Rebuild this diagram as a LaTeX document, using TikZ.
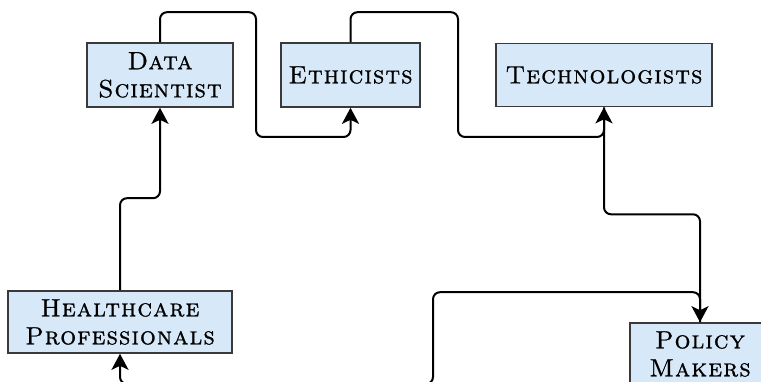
\documentclass[tikz,border=0pt]{standalone}
\usepackage{fontspec}
\usetikzlibrary{arrows.meta}
\newfontfamily\labelfont[LetterSpace=4,FakeBold=0.9]{lmromancaps10-regular.otf}
\definecolor{boxfill}{HTML}{D7E9F9}
\definecolor{boxline}{HTML}{3A3A3A}
\begin{document}
\begin{tikzpicture}[x=1pt,y=-1pt,
  role/.style={draw=boxline,line width=1.6pt,fill=boxfill,rectangle,
    inner sep=0pt,align=center,font=\labelfont\fontsize{25}{28}\selectfont},
  link/.style={line width=2pt,rounded corners=7pt,
    -{Stealth[length=16pt,width=17pt,inset=4pt]}}]
  \useasboundingbox (0,0) rectangle (761,382);

  % role boxes
  \node[role,minimum width=146pt,minimum height=64pt] (ds)   at (160,75)   {Data\\Scientist};
  \node[role,minimum width=139pt,minimum height=64pt] (eth)  at (350.5,75) {Ethicists};
  \node[role,minimum width=216pt,minimum height=63pt] (tech) at (604,75)   {Technologists};
  \node[role,minimum width=224pt,minimum height=62pt] (hp)   at (120,322)  {Healthcare\\Professionals};
  \node[role,minimum width=140pt,minimum height=62pt] (pm)   at (700,354)  {Policy\\Makers};

  % connectors between roles
  \draw[link] (hp.north) -- ++(0,-92) -| (ds.south);
  \draw[link] (ds.north) -- ++(0,-30) -| (256,137) -| (eth.south);
  \draw[link] (eth.north) -- ++(0,-30) -| (458,137) -| (tech.south);
  \draw[link] (tech.south) -- ++(0,107) -| (pm.north);
  \draw[link] (pm.north) -- ++(0,-30) -| (433,384) -| (hp.south);
\end{tikzpicture}
\end{document}
